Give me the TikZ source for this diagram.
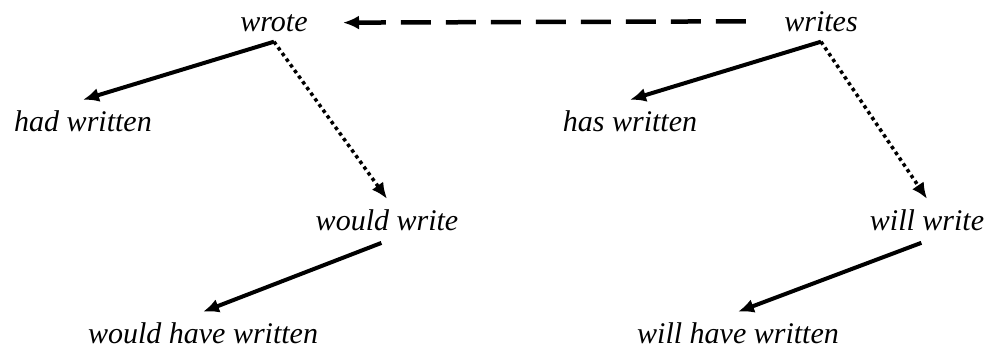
\documentclass[tikz,border=0pt]{standalone}
\usepackage{fontspec}
\setmainfont{Liberation Serif}
\usetikzlibrary{arrows.meta}

\tikzset{
  verb/.style={font=\itshape\fontsize{15}{18}\selectfont, inner sep=5pt, anchor=base},
  tenseshift/.style={-{Latex[length=8pt,width=7pt]}, line width=2pt},
  modal/.style={-{Latex[length=8pt,width=7pt]}, line width=1.75pt, dash pattern=on 1.75pt off 1.75pt},
  backshift/.style={-{Latex[length=8pt,width=7pt]}, line width=2.25pt, dash pattern=on 15pt off 7.5pt}
}

\begin{document}
\begin{tikzpicture}[x=0.5pt, y=-0.5pt]
  \useasboundingbox (0,0) rectangle (991,349);

  % past side
  \node [verb] (wrote) at (274,31) {wrote};
  \node [verb] (hadw) at (83,131) {had written};
  \node [verb] (wouldw) at (387,230) {would write};
  \node [verb] (wouldhw) at (203,343) {would have written};

  % present side
  \node [verb] (writes) at (821,31) {writes};
  \node [verb] (hasw) at (630,131) {has written};
  \node [verb] (willw) at (927,230) {will write};
  \node [verb] (willhw) at (738,343) {will have written};

  \draw [backshift, shorten <=14pt, shorten >=12.5pt] (writes.west) -- (wrote.east);

  \draw [tenseshift] (wrote.south) -- (hadw.north);
  \draw [modal] (wrote.south) -- (wouldw.north);
  \draw [tenseshift, shorten <=3pt] (wouldw.south) -- (wouldhw.north);

  \draw [tenseshift] (writes.south) -- (hasw.north);
  \draw [modal] (writes.south) -- (willw.north);
  \draw [tenseshift, shorten <=3pt] (willw.south) -- (willhw.north);
\end{tikzpicture}
\end{document}
